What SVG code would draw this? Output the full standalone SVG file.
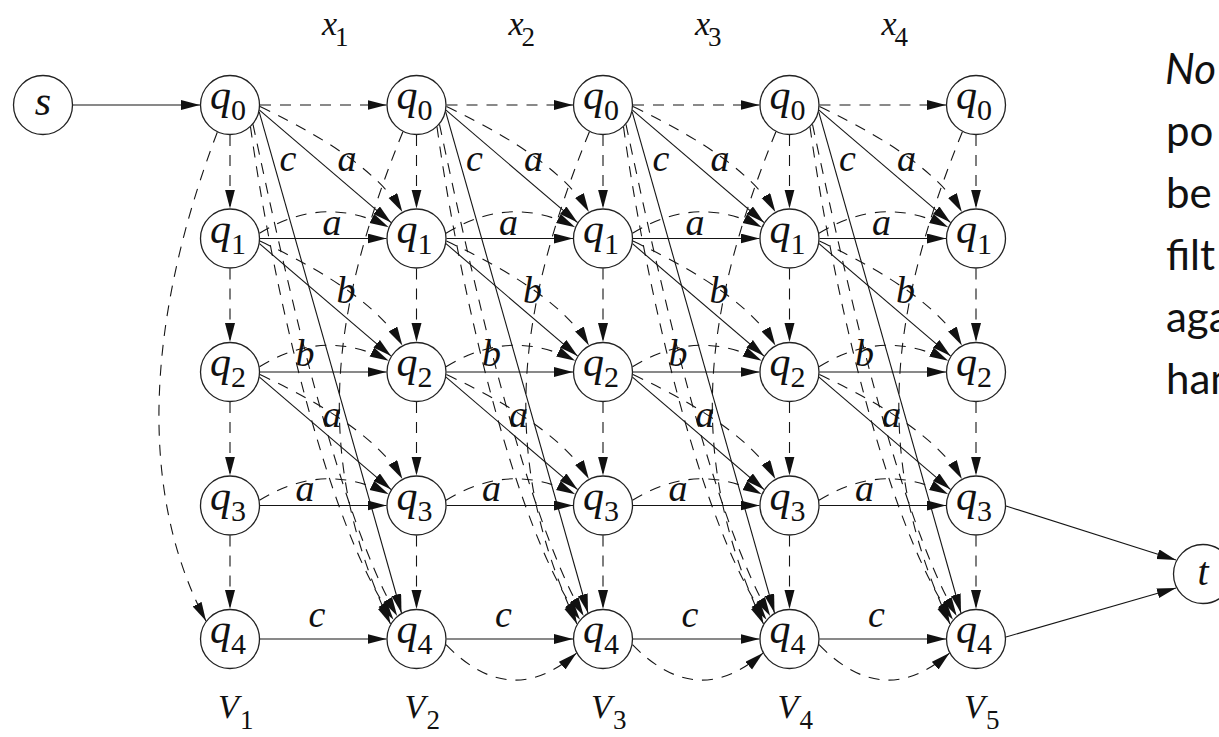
<svg xmlns="http://www.w3.org/2000/svg" width="1219" height="737" viewBox="0 0 1219 737">
<style>
.e{fill:none;stroke:#151515;stroke-width:1.1;marker-end:url(#ah)}
.d{stroke-dasharray:11 9}
.n circle{fill:#fff;stroke:#222;stroke-width:1.3}
.m{font-family:"Liberation Serif","Times New Roman",serif;font-style:italic;fill:#111}
.q{font-size:42px}
.sub{font-family:"Liberation Serif","Times New Roman",serif;font-style:normal;fill:#111}
.sq{font-size:30px}
.lab{font-size:38px;text-anchor:middle}
.ax{font-size:34px}
.sa{font-size:27px}
.note{font-family:Lato,"Open Sans","Liberation Sans",sans-serif;font-size:42px;fill:#111}
</style>
<defs>
<marker id="ah" markerUnits="userSpaceOnUse" markerWidth="20" markerHeight="11" refX="19" refY="5" orient="auto">
<path d="M0,0 L19,5 L0,10 z" fill="#111"/>
</marker>
</defs>
<rect width="1219" height="737" fill="#fff"/>
<g id="connectors">
<path class="e" d="M73,105 L200,105"/>
<!-- cell 1 -->
<path class="e" d="M259.5,110.2 L391.1,222.6"/>
<path class="e" d="M259.2,111.8 L401.5,613"/>
<path class="e" d="M259.5,243.7 L391.1,356.1"/>
<path class="e" d="M259.5,377.2 L391.1,489.6"/>
<path class="e" d="M260,238.5 L386.5,238.5"/>
<path class="e" d="M260,372 L386.5,372"/>
<path class="e" d="M260,505.5 L386.5,505.5"/>
<path class="e" d="M260,639 L386.5,639"/>
<path class="e d" d="M260,105 L386.5,105"/>
<path class="e d" d="M260,106.6 Q372.1,159.6 402.4,212"/>
<path class="e d" d="M259.9,241.1 Q372.1,293.1 402.4,345.5"/>
<path class="e d" d="M259.9,374.6 Q372.1,426.6 402.4,479"/>
<path class="e d" d="M259.5,233.3 Q324,193.5 388.7,227.3"/>
<path class="e d" d="M259.5,366.8 Q324,327 388.7,360.8"/>
<path class="e d" d="M259.5,500.3 Q324,460.5 388.7,494.3"/>
<path class="e d" d="M250.5,126.9 C271,275.5 324.7,521.4 393.5,619.7"/>
<path class="e d" d="M253,124.3 C284.2,271 337.2,512.1 397.2,616"/>
<!-- cell 2 -->
<path class="e" d="M446,110.2 L577.6,222.6"/>
<path class="e" d="M445.7,111.8 L588,613"/>
<path class="e" d="M446,243.7 L577.6,356.1"/>
<path class="e" d="M446,377.2 L577.6,489.6"/>
<path class="e" d="M446.5,238.5 L573,238.5"/>
<path class="e" d="M446.5,372 L573,372"/>
<path class="e" d="M446.5,505.5 L573,505.5"/>
<path class="e" d="M446.5,639 L573,639"/>
<path class="e d" d="M446.5,105 L573,105"/>
<path class="e d" d="M446.5,106.6 Q558.6,159.6 588.9,212"/>
<path class="e d" d="M446.4,241.1 Q558.6,293.1 588.9,345.5"/>
<path class="e d" d="M446.4,374.6 Q558.6,426.6 588.9,479"/>
<path class="e d" d="M446,233.3 Q510.5,193.5 575.2,227.3"/>
<path class="e d" d="M446,366.8 Q510.5,327 575.2,360.8"/>
<path class="e d" d="M446,500.3 Q510.5,460.5 575.2,494.3"/>
<path class="e d" d="M446,644.7 Q510.5,711 576.5,653.1"/>
<path class="e d" d="M437,126.9 C457.5,275.5 511.2,521.4 580,619.7"/>
<path class="e d" d="M439.5,124.3 C470.7,271 523.7,512.1 583.7,616"/>
<!-- cell 3 -->
<path class="e" d="M632.5,110.2 L764.1,222.6"/>
<path class="e" d="M632.2,111.8 L774.5,613"/>
<path class="e" d="M632.5,243.7 L764.1,356.1"/>
<path class="e" d="M632.5,377.2 L764.1,489.6"/>
<path class="e" d="M633,238.5 L759.5,238.5"/>
<path class="e" d="M633,372 L759.5,372"/>
<path class="e" d="M633,505.5 L759.5,505.5"/>
<path class="e" d="M633,639 L759.5,639"/>
<path class="e d" d="M633,105 L759.5,105"/>
<path class="e d" d="M633,106.6 Q745.1,159.6 775.4,212"/>
<path class="e d" d="M632.9,241.1 Q745.1,293.1 775.4,345.5"/>
<path class="e d" d="M632.9,374.6 Q745.1,426.6 775.4,479"/>
<path class="e d" d="M632.5,233.3 Q697,193.5 761.7,227.3"/>
<path class="e d" d="M632.5,366.8 Q697,327 761.7,360.8"/>
<path class="e d" d="M632.5,500.3 Q697,460.5 761.7,494.3"/>
<path class="e d" d="M632.5,644.7 Q697,711 763,653.1"/>
<path class="e d" d="M623.5,126.9 C644,275.5 697.7,521.4 766.5,619.7"/>
<path class="e d" d="M626,124.3 C657.2,271 710.2,512.1 770.2,616"/>
<!-- cell 4 -->
<path class="e" d="M819,110.2 L950.6,222.6"/>
<path class="e" d="M818.7,111.8 L961,613"/>
<path class="e" d="M819,243.7 L950.6,356.1"/>
<path class="e" d="M819,377.2 L950.6,489.6"/>
<path class="e" d="M819.5,238.5 L946,238.5"/>
<path class="e" d="M819.5,372 L946,372"/>
<path class="e" d="M819.5,505.5 L946,505.5"/>
<path class="e" d="M819.5,639 L946,639"/>
<path class="e d" d="M819.5,105 L946,105"/>
<path class="e d" d="M819.5,106.6 Q931.6,159.6 961.9,212"/>
<path class="e d" d="M819.4,241.1 Q931.6,293.1 961.9,345.5"/>
<path class="e d" d="M819.4,374.6 Q931.6,426.6 961.9,479"/>
<path class="e d" d="M819,233.3 Q883.5,193.5 948.2,227.3"/>
<path class="e d" d="M819,366.8 Q883.5,327 948.2,360.8"/>
<path class="e d" d="M819,500.3 Q883.5,460.5 948.2,494.3"/>
<path class="e d" d="M819,644.7 Q883.5,711 949.5,653.1"/>
<path class="e d" d="M810,126.9 C830.5,275.5 884.2,521.4 953,619.7"/>
<path class="e d" d="M812.5,124.3 C843.7,271 896.7,512.1 956.7,616"/>
<!-- in-column q0 to q4 arcs -->
<path class="e d" d="M217.3,132.2 C153.4,299.6 131.3,479.9 206,621"/>
<path class="e d" d="M402.9,131.7 C327,318.4 314.4,460.9 390.5,624"/>
<path class="e d" d="M589.4,131.7 C513.5,318.4 500.9,460.9 577,624"/>
<path class="e d" d="M775.9,131.7 C700,318.4 687.4,460.9 763.5,624"/>
<path class="e d" d="M962.4,131.7 C886.5,318.4 873.9,460.9 950,624"/>
<!-- vertical dashed -->
<path class="e d" d="M230,135 L230,208.5"/>
<path class="e d" d="M230,268.5 L230,342"/>
<path class="e d" d="M230,402 L230,475.5"/>
<path class="e d" d="M230,535.5 L230,609"/>
<path class="e d" d="M416.5,135 L416.5,208.5"/>
<path class="e d" d="M416.5,268.5 L416.5,342"/>
<path class="e d" d="M416.5,402 L416.5,475.5"/>
<path class="e d" d="M416.5,535.5 L416.5,609"/>
<path class="e d" d="M603,135 L603,208.5"/>
<path class="e d" d="M603,268.5 L603,342"/>
<path class="e d" d="M603,402 L603,475.5"/>
<path class="e d" d="M603,535.5 L603,609"/>
<path class="e d" d="M789.5,135 L789.5,208.5"/>
<path class="e d" d="M789.5,268.5 L789.5,342"/>
<path class="e d" d="M789.5,402 L789.5,475.5"/>
<path class="e d" d="M789.5,535.5 L789.5,609"/>
<path class="e d" d="M976,135 L976,208.5"/>
<path class="e d" d="M976,268.5 L976,342"/>
<path class="e d" d="M976,402 L976,475.5"/>
<path class="e d" d="M976,535.5 L976,609"/>
<!-- to t -->
<path class="e" d="M1006,506 L1176,560"/>
<path class="e" d="M1006,637 L1176,588"/>
<!-- edge labels -->
<g class="m lab">
<text x="288" y="171">c</text><text x="347" y="171">a</text>
<text x="332" y="235">a</text><text x="346" y="303">b</text>
<text x="305" y="366">b</text><text x="332" y="427">a</text>
<text x="305" y="501">a</text><text x="317" y="627">c</text>
<text x="474.5" y="171">c</text><text x="533.5" y="171">a</text>
<text x="508.5" y="235">a</text><text x="532.5" y="303">b</text>
<text x="491.5" y="366">b</text><text x="518.5" y="427">a</text>
<text x="491.5" y="501">a</text><text x="503.5" y="627">c</text>
<text x="661" y="171">c</text><text x="720" y="171">a</text>
<text x="695" y="235">a</text><text x="719" y="303">b</text>
<text x="678" y="366">b</text><text x="705" y="427">a</text>
<text x="678" y="501">a</text><text x="690" y="627">c</text>
<text x="847.5" y="171">c</text><text x="906.5" y="171">a</text>
<text x="881.5" y="235">a</text><text x="905.5" y="303">b</text>
<text x="864.5" y="366">b</text><text x="891.5" y="427">a</text>
<text x="864.5" y="501">a</text><text x="876.5" y="627">c</text>
</g>
</g>
<g id="s" class="n"><circle cx="43" cy="105" r="29.5"/><text class="m" x="43" y="115" font-size="42" text-anchor="middle">s</text></g>
<g id="t" class="n"><circle cx="1203" cy="574" r="29.5"/><text class="m" x="1203" y="585" font-size="40" text-anchor="middle">t</text></g>
<g id="V1_q0" class="n"><circle cx="230" cy="105" r="29.5"/><text class="m q" x="210" y="109">q</text><text class="sub sq" x="231" y="120">0</text></g>
<g id="V1_q1" class="n"><circle cx="230" cy="238.5" r="29.5"/><text class="m q" x="210" y="242.5">q</text><text class="sub sq" x="231" y="253.5">1</text></g>
<g id="V1_q2" class="n"><circle cx="230" cy="372" r="29.5"/><text class="m q" x="210" y="376">q</text><text class="sub sq" x="231" y="387">2</text></g>
<g id="V1_q3" class="n"><circle cx="230" cy="505.5" r="29.5"/><text class="m q" x="210" y="509.5">q</text><text class="sub sq" x="231" y="520.5">3</text></g>
<g id="V1_q4" class="n"><circle cx="230" cy="639" r="29.5"/><text class="m q" x="210" y="643">q</text><text class="sub sq" x="231" y="654">4</text></g>
<g id="V2_q0" class="n"><circle cx="416.5" cy="105" r="29.5"/><text class="m q" x="396.5" y="109">q</text><text class="sub sq" x="417.5" y="120">0</text></g>
<g id="V2_q1" class="n"><circle cx="416.5" cy="238.5" r="29.5"/><text class="m q" x="396.5" y="242.5">q</text><text class="sub sq" x="417.5" y="253.5">1</text></g>
<g id="V2_q2" class="n"><circle cx="416.5" cy="372" r="29.5"/><text class="m q" x="396.5" y="376">q</text><text class="sub sq" x="417.5" y="387">2</text></g>
<g id="V2_q3" class="n"><circle cx="416.5" cy="505.5" r="29.5"/><text class="m q" x="396.5" y="509.5">q</text><text class="sub sq" x="417.5" y="520.5">3</text></g>
<g id="V2_q4" class="n"><circle cx="416.5" cy="639" r="29.5"/><text class="m q" x="396.5" y="643">q</text><text class="sub sq" x="417.5" y="654">4</text></g>
<g id="V3_q0" class="n"><circle cx="603" cy="105" r="29.5"/><text class="m q" x="583" y="109">q</text><text class="sub sq" x="604" y="120">0</text></g>
<g id="V3_q1" class="n"><circle cx="603" cy="238.5" r="29.5"/><text class="m q" x="583" y="242.5">q</text><text class="sub sq" x="604" y="253.5">1</text></g>
<g id="V3_q2" class="n"><circle cx="603" cy="372" r="29.5"/><text class="m q" x="583" y="376">q</text><text class="sub sq" x="604" y="387">2</text></g>
<g id="V3_q3" class="n"><circle cx="603" cy="505.5" r="29.5"/><text class="m q" x="583" y="509.5">q</text><text class="sub sq" x="604" y="520.5">3</text></g>
<g id="V3_q4" class="n"><circle cx="603" cy="639" r="29.5"/><text class="m q" x="583" y="643">q</text><text class="sub sq" x="604" y="654">4</text></g>
<g id="V4_q0" class="n"><circle cx="789.5" cy="105" r="29.5"/><text class="m q" x="769.5" y="109">q</text><text class="sub sq" x="790.5" y="120">0</text></g>
<g id="V4_q1" class="n"><circle cx="789.5" cy="238.5" r="29.5"/><text class="m q" x="769.5" y="242.5">q</text><text class="sub sq" x="790.5" y="253.5">1</text></g>
<g id="V4_q2" class="n"><circle cx="789.5" cy="372" r="29.5"/><text class="m q" x="769.5" y="376">q</text><text class="sub sq" x="790.5" y="387">2</text></g>
<g id="V4_q3" class="n"><circle cx="789.5" cy="505.5" r="29.5"/><text class="m q" x="769.5" y="509.5">q</text><text class="sub sq" x="790.5" y="520.5">3</text></g>
<g id="V4_q4" class="n"><circle cx="789.5" cy="639" r="29.5"/><text class="m q" x="769.5" y="643">q</text><text class="sub sq" x="790.5" y="654">4</text></g>
<g id="V5_q0" class="n"><circle cx="976" cy="105" r="29.5"/><text class="m q" x="956" y="109">q</text><text class="sub sq" x="977" y="120">0</text></g>
<g id="V5_q1" class="n"><circle cx="976" cy="238.5" r="29.5"/><text class="m q" x="956" y="242.5">q</text><text class="sub sq" x="977" y="253.5">1</text></g>
<g id="V5_q2" class="n"><circle cx="976" cy="372" r="29.5"/><text class="m q" x="956" y="376">q</text><text class="sub sq" x="977" y="387">2</text></g>
<g id="V5_q3" class="n"><circle cx="976" cy="505.5" r="29.5"/><text class="m q" x="956" y="509.5">q</text><text class="sub sq" x="977" y="520.5">3</text></g>
<g id="V5_q4" class="n"><circle cx="976" cy="639" r="29.5"/><text class="m q" x="956" y="643">q</text><text class="sub sq" x="977" y="654">4</text></g>
<g id="top-labels">
<text class="m ax" x="322" y="35">x</text><text class="sub sa" x="335" y="46">1</text>
<text class="m ax" x="508.5" y="35">x</text><text class="sub sa" x="521.5" y="46">2</text>
<text class="m ax" x="695" y="35">x</text><text class="sub sa" x="708" y="46">3</text>
<text class="m ax" x="881.5" y="35">x</text><text class="sub sa" x="894.5" y="46">4</text>
</g>
<g id="bottom-labels">
<text class="m ax" x="218" y="718">V</text><text class="sub sa" x="240" y="729">1</text>
<text class="m ax" x="404.5" y="718">V</text><text class="sub sa" x="426.5" y="729">2</text>
<text class="m ax" x="591" y="718">V</text><text class="sub sa" x="613" y="729">3</text>
<text class="m ax" x="777.5" y="718">V</text><text class="sub sa" x="799.5" y="729">4</text>
<text class="m ax" x="964" y="718">V</text><text class="sub sa" x="986" y="729">5</text>
</g>
<g id="note">
<text class="note" x="1165" y="84" font-style="italic">No</text>
<text class="note" x="1166" y="146">po</text>
<text class="note" x="1166" y="208">be</text>
<text class="note" x="1166" y="270">filt</text>
<text class="note" x="1166" y="332">aga</text>
<text class="note" x="1166" y="394">han</text>
</g>
</svg>
